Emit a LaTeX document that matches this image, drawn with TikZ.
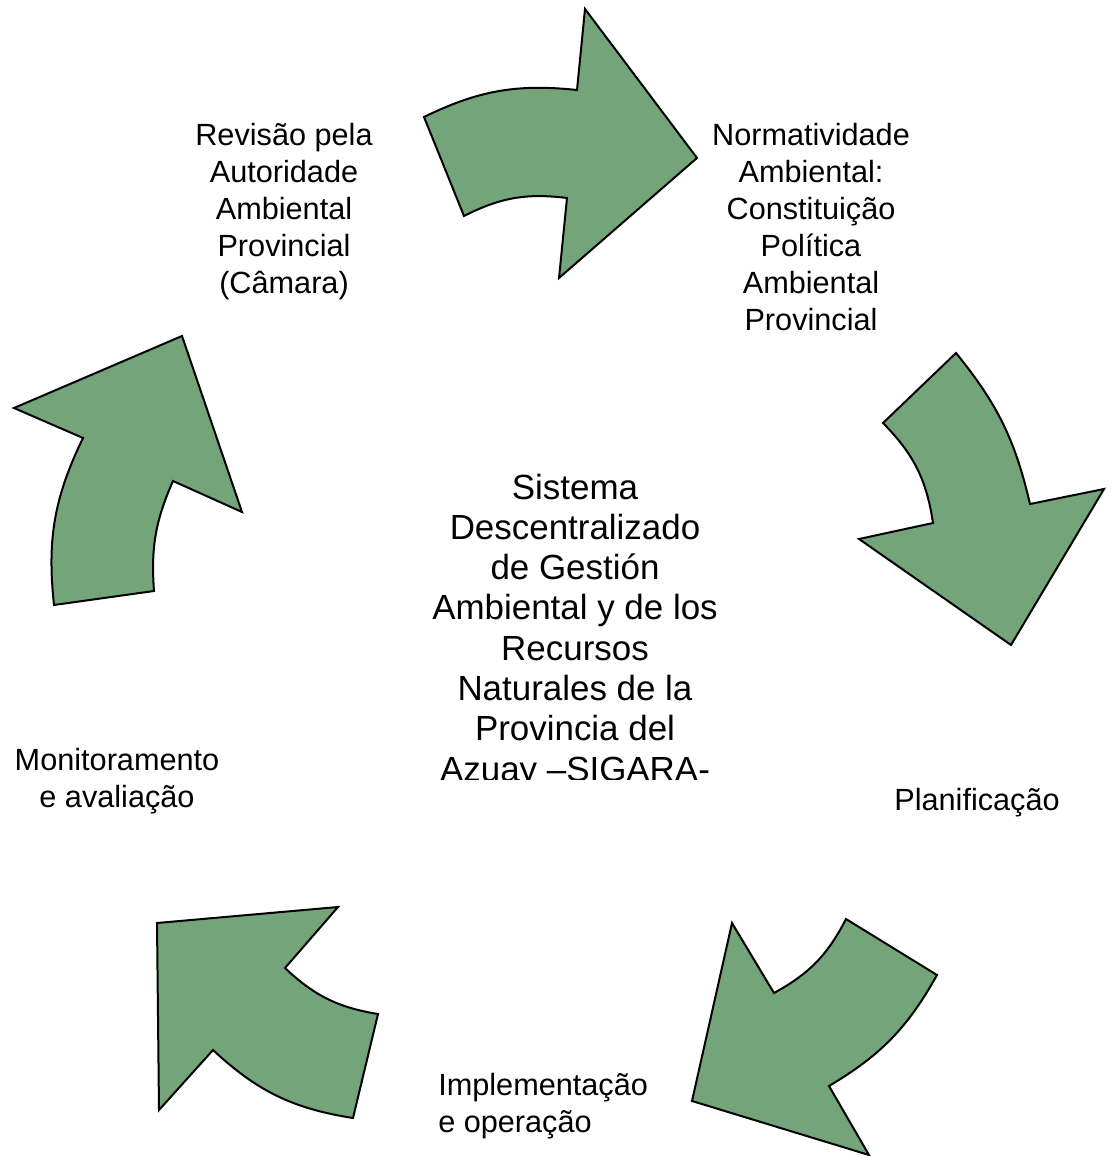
\documentclass[tikz,border=0pt]{standalone}
\usepackage{fontspec}
\setmainfont{Liberation Sans}
\definecolor{arrowgreen}{RGB}{116,165,122}

\begin{document}
\begin{tikzpicture}[x=0.75pt,y=0.75pt,yscale=-1,xscale=1]
\tikzset{cyclearrow/.style={draw=black,fill=arrowgreen,line width=1.5pt,line join=miter},
  sidetext/.style={inner sep=0pt,font=\fontsize{23}{27.75}\selectfont},
  centertext/.style={inner sep=0pt,font=\fontsize{26.2}{30.2}\selectfont}}
\useasboundingbox (0,0) rectangle (1112,1156);

%Shape: Curved Arrow top
\draw [cyclearrow] (424,117) to[bend right=16] (577,90) -- (585,9) -- (697,158) -- (559,278) -- (567,198) to[bend left=17] (464,216) -- cycle ;
%Shape: Curved Arrow right
\draw [cyclearrow] (956,353) to[bend right=13] (1030,504) -- (1104,489) -- (1011,645) -- (859,539) -- (933,523) to[bend left=18] (883,423) -- cycle ;
%Shape: Curved Arrow bottom right
\draw [cyclearrow] (937,975) to[bend right=15] (829,1086) -- (869,1155) -- (692,1101) -- (732,923) -- (774,993) to[bend left=17] (846,919) -- cycle ;
%Shape: Curved Arrow bottom left
\draw [cyclearrow] (378,1014) -- (353,1118) to[bend right=17] (213,1050) -- (159,1110) -- (157,923) -- (338,907) -- (285,968) to[bend left=17] (378,1014) -- cycle ;
%Shape: Curved Arrow left
\draw [cyclearrow] (54,605) -- (154,591) to[bend right=14] (173,481) -- (242,512) -- (182,336) -- (14,408) -- (83,438) to[bend left=16] (54,605) -- cycle ;

% Text Node
\draw (284,293) node [sidetext,anchor=base,align=center] (rev) {Revisão pela\\Autoridade\\Ambiental\\Provincial\\(Câmara)};
% Text Node
\draw (811,330) node [sidetext,anchor=base,align=center] (norm) {Normatividade\\Ambiental:\\Constituição\\Política\\Ambiental\\Provincial};
% Text Node
\draw (977,810) node [sidetext,anchor=base,align=center] (plan) {Planificação};
% Text Node
\draw (438,1132) node [sidetext,anchor=base west,align=left] (impl) {Implementação\\e operação};
% Text Node
\draw (117,807) node [sidetext,anchor=base,align=center] (mon) {Monitoramento\\e avaliação};
% Text Node
\begin{scope}
\clip (380,440) rectangle (780,779);
\draw (575,781) node [centertext,anchor=base,align=center] (sigara) {Sistema\\Descentralizado\\de Gestión\\Ambiental y de los\\Recursos\\Naturales de la\\Provincia del\\Azuay –SIGARA-};
\end{scope}

\end{tikzpicture}
\end{document}
